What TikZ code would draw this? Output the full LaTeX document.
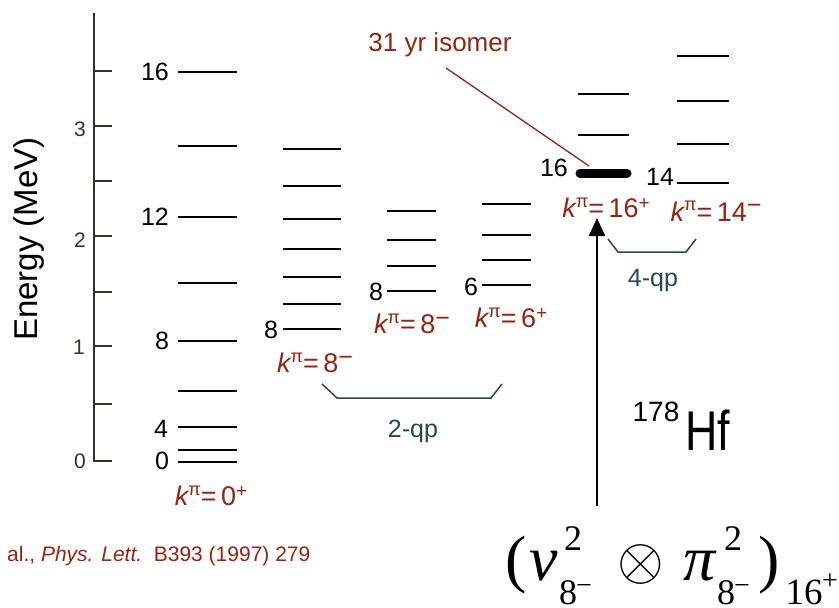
\documentclass[tikz,border=0pt]{standalone}
\usepackage{fontspec}
\usepackage{graphicx}
\setmainfont{Liberation Sans}
\newfontfamily\tms{Liberation Serif}
\usetikzlibrary{arrows.meta}
\newcommand\myfs[1]{\fontsize{#1}{#1}\selectfont}
\newcommand\sps[3]{\raisebox{#2}{\myfs{#1}#3}}
\newcommand\kpi[2]{{\itshape k}\sps{18}{10.5pt}{π}=\,#1#2}
\newcommand\smin{\sps{25}{7.5pt}{−}}
\newcommand\splus{\sps{19}{8.5pt}{+}}
\definecolor{kred}{RGB}{150,35,15}
\definecolor{qpcol}{RGB}{40,70,85}
\definecolor{axcol}{RGB}{50,50,40}
\begin{document}
\begin{tikzpicture}[x=1pt,y=-1pt,
  lvl/.style={line width=2.7pt,black},
  axline/.style={line width=2pt,axcol},
  tickline/.style={line width=1.6pt,axcol},
  ticklab/.style={inner sep=0pt,font=\myfs{21},text=axcol},
  numlab/.style={inner sep=0pt,font=\myfs{25}},
  klab/.style={inner sep=0pt,font=\myfs{27},text=kred},
  qplab/.style={inner sep=0pt,font=\myfs{25},text=qpcol},
  bracket/.style={line width=1.5pt,qpcol},
  fmain/.style={inner sep=0pt,anchor=base,font=\tms\myfs{64}},
  fsub/.style={inner sep=0pt,anchor=base,font=\tms\myfs{36}},
  fmin/.style={inner sep=0pt,anchor=base,font=\tms\myfs{28}}]
\useasboundingbox (0,0) rectangle (839,608);
% axis
\draw[axline] (94,13) -- (94,461) -- (112,461);
\foreach \y in {71,126,181,236,292,346,404} \draw[tickline] (94,\y) -- (112,\y);
\node[ticklab] (t3) at (80,129) {3};
\node[ticklab] (t2) at (80,240) {2};
\node[ticklab] (t1) at (79,347) {1};
\node[ticklab] (t0) at (80,461) {0};
\node[inner sep=0pt,font=\myfs{33},rotate=90] (elab) at (29,239) {Energy (MeV)};
% column 1
\foreach \y in {72,146,217,283,341,391,427,450,462} \draw[lvl] (178,\y) -- (237,\y);
\node[numlab] (c1a) at (155,72) {16};
\node[numlab] (c1b) at (155,217) {12};
\node[numlab] (c1c) at (162,341) {8};
\node[numlab] (c1d) at (161,429) {4};
\node[numlab] (c1e) at (162,461) {0};
\node[klab] (k1) at (211,496) {\kpi{0}{\splus}};
% column 2
\foreach \y in {149,186,219,249,277,304,329} \draw[lvl] (283,\y) -- (341,\y);
\node[numlab] (c2a) at (271,330) {8};
\node[klab] (k2) at (315,363) {\kpi{8}{\smin}};
% column 3
\foreach \y in {211,240,266,291} \draw[lvl] (387,\y) -- (436,\y);
\node[numlab] (c3a) at (376,292) {8};
\node[klab] (k3) at (412,324) {\kpi{8}{\smin}};
% column 4
\foreach \y in {204,235,260,285} \draw[lvl] (482,\y) -- (531,\y);
\node[numlab] (c4a) at (471,287) {6};
\node[klab] (k4) at (511,318) {\kpi{6}{\splus}};
% column 5
\foreach \y in {94,135} \draw[lvl] (578,\y) -- (629,\y);
\draw[line width=9pt,line cap=round] (580,173) -- (627,173);
\coordinate (iso16) at (589,166);
\node[numlab] (c5a) at (554,168) {16};
\node[klab] (k5) at (606,208) {\kpi{16}{\splus}};
% column 6
\foreach \y in {56,101,144,183} \draw[lvl] (677,\y) -- (729,\y);
\node[numlab] (c6a) at (660,177) {14};
\node[klab] (k6) at (716,211) {\kpi{14}{\smin}};
% brackets
\draw[bracket] (322,384) -- (337,398) -- (491,398) -- (502,384);
\node[qplab] (qp2) at (413,431) {2-qp};
\draw[bracket] (608,239) -- (618,252) -- (686,252) -- (696,239);
\node[qplab] (qp4) at (653,280) {4-qp};
% isomer
\node[inner sep=0pt,font=\myfs{26},text=kred] (iso) at (440,45) {31 yr isomer};
\coordinate (isostart) at (446,68);
\draw[kred,line width=1.3pt] (isostart) -- (iso16);
% arrow
\coordinate (arrbot) at (597,506);
\coordinate (arrtop) at (597,218);
\draw[line width=2.5pt,-{Triangle[width=16pt,length=18pt]}] (arrbot) -- (arrtop);
% nucleus
\node[inner sep=0pt,font=\myfs{28}] (a178) at (656,412) {178};
\node[inner sep=0pt,anchor=base west,font=\myfs{56}] (hf) at (685,450) {\scalebox{0.8}[1]{Hf}};
% reference
\node[inner sep=0pt,anchor=west,font=\myfs{21},text=kred] (ref) at (7,556) {al., \textit{Phys. Lett.}\ \ B393 (1997) 279};
% formula
\node[fmain] (po) at (516,580) {(};
\node[fmain] (nu) at (544,580) {\itshape ν};
\node[fsub] (s2a) at (573,550) {2};
\node[fsub] (s8a) at (568,604) {8};
\node[fmin] (m8a) at (584,594) {−};
\node[inner sep=0pt] (ot) at (641,564) {\scalebox{6}{$\otimes$}};
\node[fmain] (pi) at (700,580) {\itshape π};
\node[fsub] (s2b) at (733,550) {2};
\node[fsub] (s8b) at (726,604) {8};
\node[fmin] (m8b) at (742,594) {−};
\node[fmain] (pc) at (769,580) {)};
\node[inner sep=0pt,anchor=base,font=\tms\myfs{37}] (s16) at (804,604) {16};
\node[inner sep=0pt,font=\tms\myfs{28}] (pl) at (830,582) {+};
\end{tikzpicture}
\end{document}
